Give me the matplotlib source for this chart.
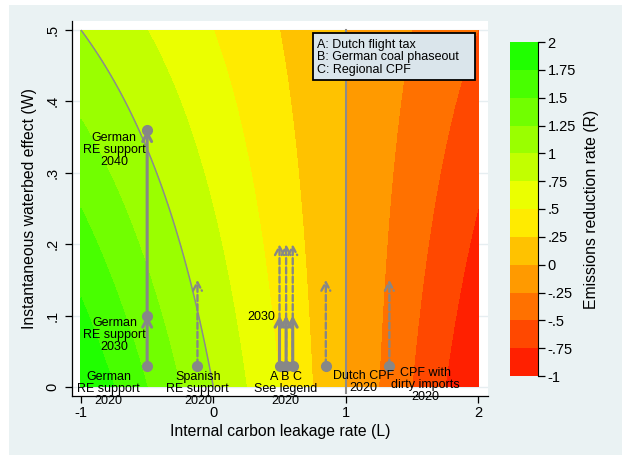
import numpy as np
import matplotlib
matplotlib.use("Agg")
import matplotlib.pyplot as plt
from matplotlib.patches import Rectangle
import colorsys

# ---------------- data ----------------
L_grid = np.linspace(-1, 2, 301)          # internal carbon leakage rate
W_grid = np.linspace(0, 0.5, 201)         # instantaneous waterbed effect
levels = [-1, -0.75, -0.5, -0.25, 0, 0.25, 0.5, 0.75, 1, 1.25, 1.5, 1.75, 2]
level_labels = ["-1", "-.75", "-.5", "-.25", "0", ".25", ".5", ".75", "1",
                "1.25", "1.5", "1.75", "2"]
x_ticks = [-1, 0, 1, 2]
x_ticklabels = ["-1", "0", "1", "2"]
y_ticks = [0, 0.1, 0.2, 0.3, 0.4, 0.5]
y_ticklabels = ["0", ".1", ".2", ".3", ".4", ".5"]

german_L = -0.5
german_W = [0.03, 0.10, 0.36]
spanish_L = -0.12
spanish_W = [0.03, 0.15]
abc_L = [0.50, 0.55, 0.60]
abc_W = [0.03, 0.10, 0.20]
dutch_L = 0.85
dutch_W = [0.03, 0.15]
dirty_L = 1.33
dirty_W = [0.03, 0.15]

legend_lines = ["A: Dutch flight tax", "B: German coal phaseout", "C: Regional CPF"]

# ---------------- figure ----------------
FONT = "Liberation Sans"
plt.rcParams["font.family"] = [FONT, "DejaVu Sans"]
W_PX, H_PX = 622, 455
fig = plt.figure(figsize=(W_PX / 100, H_PX / 100), dpi=100, facecolor="white")
fig.patches.append(Rectangle((9 / W_PX, 0), 1 - 9 / W_PX, 1 - 5 / H_PX,
                             transform=fig.transFigure, facecolor="#EAF2F3",
                             edgecolor="none", zorder=-10))

def fx(px):
    return px / W_PX

def fy(py):
    return 1 - py / H_PX

ax = fig.add_axes([fx(72), fy(396), fx(488) - fx(72), fy(21) - fy(396)])
ax.set_facecolor("white")
ax.set_xlim(-1 - 9 / 132.5, 2 + 10 / 132.5)
ax.set_ylim(-9 / 714, 0.5 + 9 / 714)

# colours: hue steps from red to green
n = len(levels) - 1
cols = [colorsys.hsv_to_rgb((7.5 + k * 105 / (n - 1)) / 360, 1, 1) for k in range(n)]

LL, WW = np.meshgrid(L_grid, W_grid)
R = (1 - LL) * (1 - WW)
cs = ax.contourf(LL, WW, R, levels=levels, colors=cols, zorder=1, antialiased=False)
ax.contour(LL, WW, R, levels=[1], colors="#8C8C8C", linewidths=1.1, zorder=2)

gray = "#878787"
ax.plot([1, 1], [-0.008, 0.5], color="#8C8C8C", lw=1.5, zorder=2)

def arrow(x, y0, y1, dashed, lw):
    ls = (0, (2.6, 1.3)) if dashed else "-"
    ax.annotate("", xy=(x, y1), xytext=(x, y0),
                arrowprops=dict(arrowstyle="->,head_length=0.6,head_width=0.32",
                                color=gray, lw=lw, linestyle=ls,
                                shrinkA=0, shrinkB=0), zorder=4)

# German RE support
arrow(german_L, german_W[0], german_W[1], False, 2.2)
arrow(german_L, german_W[1], german_W[2], False, 2.2)
ax.plot([german_L] * 3, german_W, "o", color=gray, ms=7, zorder=5)
# Spanish
arrow(spanish_L, spanish_W[0], spanish_W[1], True, 1.7)
ax.plot([spanish_L], [spanish_W[0]], "o", color=gray, ms=7, zorder=5)
# A B C
for xl in abc_L:
    arrow(xl, abc_W[0], abc_W[2], True, 1.7)
    arrow(xl, abc_W[0], abc_W[1], False, 2.2)
    ax.plot([xl], [abc_W[0]], "o", color=gray, ms=7, zorder=5)
# Dutch CPF
arrow(dutch_L, dutch_W[0], dutch_W[1], True, 1.7)
ax.plot([dutch_L], [dutch_W[0]], "o", color=gray, ms=7, zorder=5)
# CPF with dirty imports
arrow(dirty_L, dirty_W[0], dirty_W[1], True, 1.7)
ax.plot([dirty_L], [dirty_W[0]], "o", color=gray, ms=7, zorder=5)

tk = dict(fontsize=9, ha="center", va="center", linespacing=1.0, zorder=6, color="black")
ax.text(-0.79, -0.003, "German\nRE support\n2020", **tk)
ax.text(-0.747, 0.073, "German\nRE support\n2030", **tk)
ax.text(-0.749, 0.332, "German\nRE support\n2040", **tk)
ax.text(-0.117, -0.003, "Spanish\nRE support\n2020", **tk)
ax.text(0.547, -0.003, "A B C\nSee legend\n2020", **tk)
ax.text(1.132, 0.007, "Dutch CPF\n2020", **tk)
ax.text(1.60, 0.003, "CPF with\ndirty imports\n2020", **tk)
ax.text(0.464, 0.0976, "2030", fontsize=9, ha="right", va="center", zorder=6)

# legend box
ax.add_patch(Rectangle((0.751, 0.430), 1.981 - 0.751, 0.4958 - 0.430,
                       facecolor="#DAE5EB", edgecolor="black", lw=1.3, zorder=7))
ax.text(0.781, 0.462, "\n".join(legend_lines), fontsize=9, ha="left", va="center",
        linespacing=1.05, zorder=8)

# axes styling
for s in ["top", "right"]:
    ax.spines[s].set_visible(False)
for s in ["left", "bottom"]:
    ax.spines[s].set_color("black")
    ax.spines[s].set_linewidth(0.9)
    ax.spines[s].set_zorder(9)
ax.set_xticks(x_ticks)
ax.set_xticklabels(x_ticklabels)
ax.set_yticks(y_ticks)
ax.set_yticklabels(y_ticklabels, rotation=90, va="center")
ax.tick_params(axis="both", direction="out", length=5, width=0.9, labelsize=10.5)
ax.tick_params(axis="y", pad=4)
ax.tick_params(axis="x", pad=2)
ax.yaxis.grid(True, color="#E6EEF1", lw=1.0, zorder=0)
ax.set_axisbelow(True)
ax.set_xlabel("Internal carbon leakage rate (L)", fontsize=11.3, labelpad=3)
ax.set_ylabel("Instantaneous waterbed effect (W)", fontsize=11.3, labelpad=6)

# colorbar
cax = fig.add_axes([fx(510), fy(376), fx(538) - fx(510), fy(42) - fy(376)])
cb = fig.colorbar(cs, cax=cax, ticks=levels)
cb.outline.set_visible(False)
cax.set_yticklabels(level_labels)
cax.tick_params(direction="out", length=5, width=0.9, labelsize=10.5, pad=2)
cax.spines["right"].set_visible(True)
cax.spines["right"].set_color("black")
cb.set_label("Emissions reduction rate (R)", fontsize=11.3, labelpad=6)

fig.savefig("out.png", dpi=100, facecolor=fig.get_facecolor())
